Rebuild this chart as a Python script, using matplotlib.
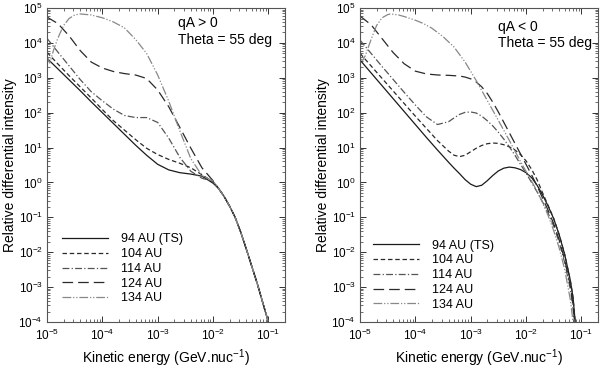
import numpy as np
import matplotlib
matplotlib.use("Agg")
import matplotlib.pyplot as plt
from matplotlib.ticker import LogLocator, NullFormatter

plt.rcParams['font.family'] = ['Liberation Sans', 'DejaVu Sans']
plt.rcParams['mathtext.fontset'] = 'custom'
plt.rcParams['mathtext.rm'] = 'Liberation Sans'
plt.rcParams['mathtext.it'] = 'Liberation Sans'
plt.rcParams['mathtext.bf'] = 'Liberation Sans'

# ---------------- data (log10 energy [GeV/nuc], log10 relative intensity) -------------
labels = ['94 AU (TS)', '104 AU', '114 AU', '124 AU', '134 AU']

# left panel : qA > 0
L_grid = [-5.0, -4.8, -4.6, -4.4, -4.2, -4.0, -3.8, -3.6, -3.4, -3.2, -3.0, -2.8, -2.6,
          -2.4, -2.2, -2.0, -1.9, -1.8, -1.7, -1.6, -1.5, -1.4, -1.3, -1.2, -1.1, -1.0, -0.95]
L_tail = [-0.17, -0.4, -0.68, -1.0, -1.42, -1.9, -2.4, -2.9, -3.45, -4.0, -4.3]
L_94 = [3.56, 3.25, 2.94, 2.63, 2.31, 2.0, 1.69, 1.38, 1.07, 0.78, 0.52, 0.36, 0.28,
        0.24, 0.18, -0.02] + L_tail
L_104 = [3.73, 3.39, 3.06, 2.74, 2.42, 2.09, 1.77, 1.5, 1.23, 0.98, 0.8, 0.66, 0.55,
         0.42, 0.22, 0.02] + L_tail
L_114 = [4.13, 3.73, 3.34, 2.95, 2.6, 2.34, 2.1, 1.92, 1.86, 1.86, 1.72, 1.27, 0.72,
         0.32, 0.12, 0.03] + L_tail
L_124 = [4.74, 4.55, 4.2, 3.78, 3.45, 3.28, 3.18, 3.12, 3.08, 2.98, 2.65, 2.17, 1.58,
         0.98, 0.42, 0.05] + L_tail
L_134_x = [-5.0, -4.95, -4.88, -4.8, -4.7, -4.6, -4.5, -4.4, -4.2, -4.0, -3.8, -3.6, -3.4,
           -3.2, -3.0, -2.8, -2.6, -2.4, -2.2, -2.0, -1.9, -1.8, -1.7, -1.6, -1.5, -1.4,
           -1.3, -1.2, -1.1, -1.0, -0.95]
L_134 = [3.6, 3.42, 3.8, 4.15, 4.5, 4.7, 4.8, 4.83, 4.8, 4.72, 4.6, 4.43, 4.1, 3.7, 3.08,
         2.33, 1.48, 0.68, 0.2, 0.04] + L_tail

# right panel : qA < 0
R_grid = [-5.0, -4.8, -4.6, -4.4, -4.2, -4.0, -3.8, -3.6, -3.4, -3.3, -3.2, -3.1, -3.0,
          -2.9, -2.8, -2.7, -2.6, -2.5, -2.4, -2.3, -2.2, -2.1, -2.0, -1.9, -1.8, -1.7,
          -1.6, -1.5, -1.4, -1.3, -1.2, -1.15, -1.1, -1.05]
R_94 = [3.51, 3.14, 2.77, 2.4, 2.03, 1.66, 1.29, 0.93, 0.58, 0.41, 0.25, 0.08, -0.05,
        -0.12, -0.08, 0.05, 0.2, 0.33, 0.41, 0.44, 0.42, 0.37, 0.28, 0.14, -0.08, -0.36,
        -0.68, -1.04, -1.5, -2.07, -2.8, -3.3, -4.2, -5.0]
R_104 = [3.7, 3.34, 2.98, 2.62, 2.26, 1.9, 1.55, 1.2, 0.9, 0.78, 0.74, 0.78, 0.88,
         0.98, 1.06, 1.11, 1.13, 1.12, 1.08, 1.02, 0.93, 0.8, 0.62, 0.38, 0.08, -0.3,
         -0.66, -1.03, -1.5, -2.07, -2.8, -3.3, -4.2, -5.0]
R_114 = [4.08, 3.7, 3.32, 2.95, 2.58, 2.22, 1.88, 1.66, 1.74, 1.85, 1.95, 2.01, 2.02,
         1.99, 1.9, 1.77, 1.62, 1.44, 1.24, 1.02, 0.78, 0.52, 0.27, 0.0, -0.27, -0.56,
         -0.88, -1.25, -1.72, -2.3, -3.05, -3.6, -4.5, -5.2]
R_124 = [4.77, 4.52, 4.12, 3.72, 3.4, 3.19, 3.11, 3.08, 3.07, 3.06, 3.05, 3.02, 2.97,
         2.88, 2.74, 2.55, 2.3, 2.02, 1.72, 1.42, 1.12, 0.82, 0.52, 0.22, -0.1, -0.45,
         -0.8, -1.18, -1.65, -2.22, -2.95, -3.5, -4.4, -5.2]
R_134_x = [-5.0, -4.95, -4.9, -4.8, -4.7, -4.6, -4.5, -4.45, -4.3, -4.17, -4.0, -3.86, -3.7,
           -3.5, -3.3, -3.1, -2.9, -2.7, -2.5, -2.3, -2.1, -2.0, -1.9, -1.8, -1.7, -1.6,
           -1.5, -1.4, -1.3, -1.2, -1.15, -1.1]
R_134 = [3.55, 3.5, 3.65, 4.1, 4.5, 4.72, 4.81, 4.83, 4.8, 4.74, 4.65, 4.56, 4.42, 4.18,
         3.88, 3.45, 2.92, 2.35, 1.78, 1.2, 0.6, 0.32, 0.04, -0.25, -0.58, -0.95, -1.38,
         -1.88, -2.5, -3.35, -4.0, -4.9]

panels = [
    dict(series=[(L_grid, L_94), (L_grid, L_104), (L_grid, L_114), (L_grid, L_124),
                 (L_134_x, L_134)],
         text=['qA > 0', 'Theta = 55 deg'], text_x=0.55, text_y=[0.952, 0.898],
         leg_anchor=(0.062, 0.282)),
    dict(series=[(R_grid, R_94), (R_grid, R_104), (R_grid, R_114), (R_grid, R_124),
                 (R_134_x, R_134)],
         text=['qA < 0', 'Theta = 55 deg'], text_x=0.58, text_y=[0.94, 0.889],
         leg_anchor=(0.055, 0.262)),
]

styles = [
    dict(color='#1a1a1a', linestyle='-'),
    dict(color='#2a2a2a', linestyle=(0, (3.6, 2.2))),
    dict(color='#555555', linestyle=(0, (5.5, 1.8, 1.0, 1.8))),
    dict(color='#2a2a2a', linestyle=(0, (8.5, 4.0))),
    dict(color='#888888', linestyle=(0, (7, 1.5, 1, 1.5, 1, 1.5))),
]

fig = plt.figure(figsize=(6.0, 3.67), dpi=100)
positions = [[47 / 600, 0.1226, 238 / 600, 0.8556], [360 / 600, 0.1226, 238 / 600, 0.8556]]

for pos, p in zip(positions, panels):
    ax = fig.add_axes(pos)
    for (lx, ly), st, lab in zip(p['series'], styles, labels):
        ax.plot(10 ** np.array(lx), 10 ** np.array(ly), lw=0.9, label=lab, **st)
    ax.set_xscale('log')
    ax.set_yscale('log')
    ax.set_xlim(1e-5, 0.2)
    ax.set_ylim(1e-4, 1e5)
    ax.xaxis.set_major_locator(LogLocator(base=10, numticks=20))
    ax.yaxis.set_major_locator(LogLocator(base=10, numticks=20))
    ax.xaxis.set_minor_locator(LogLocator(base=10, subs=np.arange(2, 10), numticks=20))
    ax.yaxis.set_minor_locator(LogLocator(base=10, subs=np.arange(2, 10), numticks=20))
    ax.xaxis.set_minor_formatter(NullFormatter())
    ax.yaxis.set_minor_formatter(NullFormatter())
    ax.tick_params(which='both', direction='in', top=True, right=True, labelsize=8.5,
                   color='#333333')
    ax.tick_params(which='major', length=4, width=0.7)
    ax.tick_params(which='minor', length=2, width=0.5)
    ax.tick_params(axis='x', pad=4.5)
    ax.tick_params(axis='y', pad=3)
    for s in ax.spines.values():
        s.set_linewidth(0.8)
        s.set_color('#555555')
    ax.set_xlabel('Kinetic energy (GeV.nuc$^{-1}$)', fontsize=10, labelpad=2.5)
    ax.set_ylabel('Relative differential intensity', fontsize=10, labelpad=1)
    for t, ty in zip(p['text'], p['text_y']):
        ax.text(p['text_x'], ty, t, transform=ax.transAxes, fontsize=10,
                ha='left', va='center')
    ax.legend(loc='upper left', bbox_to_anchor=p['leg_anchor'], frameon=False,
              fontsize=9, handlelength=3.7, handletextpad=1.0, labelspacing=0.22,
              borderpad=0, borderaxespad=0)

fig.savefig('out.png', dpi=100)
